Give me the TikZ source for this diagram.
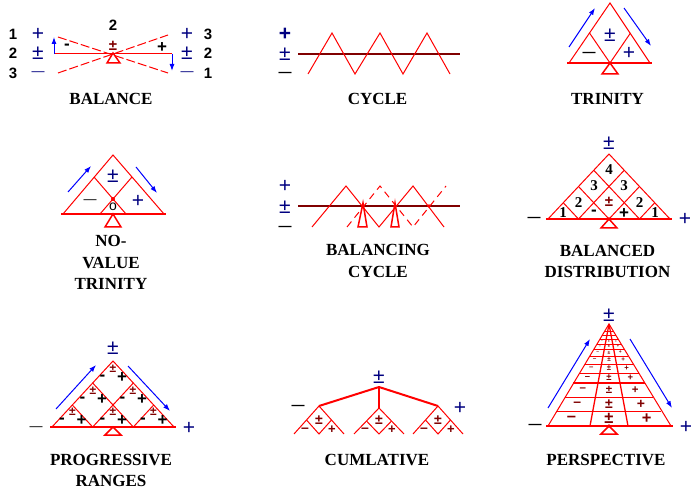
\documentclass[tikz,border=0pt]{standalone}
\usepackage{fontspec}
\setmainfont{Liberation Serif}
\setsansfont{Liberation Sans}
\usetikzlibrary{arrows.meta}
\definecolor{rd}{HTML}{FF0000}
\definecolor{nv}{HTML}{000080}
\definecolor{dr}{HTML}{800000}
\definecolor{bl}{HTML}{0000FF}
\newcommand{\myfs}[1]{\fontsize{#1}{#1}\selectfont}
\begin{document}
\begin{tikzpicture}[x=1pt,y=-1pt,
  every node/.style={inner sep=0pt, outer sep=0pt},
  title/.style={font=\fontsize{17}{21.5}\selectfont\bfseries, align=center},
  nsym/.style={font=\sffamily\myfs{21}, text=nv},
  nminus/.style={font=\sffamily\myfs{13}, text=nv},
  kminus/.style={font=\sffamily\bfseries\myfs{13}, text=black},
  tminus/.style={font=\sffamily\myfs{13}, text=black},
  num/.style={font=\sffamily\bfseries\myfs{15}},
  dnum/.style={font=\bfseries\myfs{15}},
  bsign/.style={font=\sffamily\bfseries\myfs{17}},
  dsym/.style={font=\sffamily\bfseries\myfs{15}, text=dr},
  rl/.style={draw=rd, line width=1pt},
  rlb/.style={draw=rd, line width=2pt},
  ful/.style={draw=rd, line width=1.5pt},
  dk/.style={draw=dr, line width=1.2pt},
  arr/.style={draw=bl, line width=1pt, -{Latex[length=7pt,width=5pt]}},
]
\useasboundingbox (0,0) rectangle (696,494);

% ================= BALANCE =================
\node[num] (ba1) at (13,34) {1};
\node[num] (ba2) at (13,53) {2};
\node[num] (ba3) at (13,73) {3};
\node[nsym] (bap) at (38,34) {+};
\node[nsym] (bapm) at (38,53) {±};
\node[nminus] (bam) at (38,74) {—};
\node[nsym] (barp) at (187,34) {+};
\node[nsym] (barpm) at (187,53) {±};
\node[nminus] (barm) at (187,74) {—};
\node[num] (bar3) at (208,34) {3};
\node[num] (bar2) at (208,53) {2};
\node[num] (bar1) at (208,73) {1};
\node[num] (batop) at (113,25) {2};
\node[dsym] (bac) at (113,46) {±};
\node[bsign] (baminus) at (67,47) {-};
\node[bsign] (baplus) at (162,48) {+};
\coordinate (baL) at (54,54);
\coordinate (baR) at (172,54);
\coordinate (baLu) at (54,37);
\coordinate (baRd) at (172,71);
\draw[rl] (baL) -- (baR);
\draw[arr] (baL) -- (baLu);
\draw[arr] (baR) -- (baRd);
\draw[rl, dash pattern=on 9pt off 3pt] (58,37) -- (168,73);
\draw[rl, dash pattern=on 9pt off 3pt] (58,73) -- (168,35);
\draw[ful] (113,53) -- (107,63) -- (120,63) -- cycle;
\node[title] (tbal) at (111,99) {BALANCE};

% ================= CYCLE =================
\node[nsym, font=\sffamily\bfseries\myfs{21}] (cyp) at (285,34) {+};
\node[nsym] (cypm) at (285,54) {±};
\node[kminus] (cym) at (285,74) {—};
\draw[dk] (298,54) -- (460,54);
\draw[rl] (308,74)--(332,33)--(355,74)--(380,33)--(403,74)--(427,33)--(450,74);
\node[title] (tcyc) at (377.5,99) {CYCLE};

% ================= TRINITY =================
\draw[rl] (569,63)--(610,3)--(650,63);
\draw[rlb] (567,63)--(652,63);
\draw[rl] (589.5,33)--(610,63)--(630.5,33);
\fill[rd] (610,63) circle (1.5);
\draw[ful] (610,63)--(602,74)--(618,74)--cycle;
\node[nsym] (trpm) at (610,35) {±};
\node[kminus] (trm) at (589,54) {—};
\node[nsym] (trp) at (629,53) {+};
\draw[arr] (569,47) -- (595,8);
\draw[arr] (624,8) -- (651,46);
\node[title] (ttri) at (607.5,99) {TRINITY};

% ================= NO-VALUE TRINITY =================
\draw[rl] (63,214)--(113,155)--(164,214);
\draw[rlb] (61,214)--(166,214);
\draw[rl] (94,177)--(126,214);
\draw[rl] (132,177)--(100,214);
\fill[rd] (113,199) circle (2);
\draw[ful] (113,214)--(105,227)--(121,227)--cycle;
\node[nsym] (nvpm) at (113,176) {±};
\node[tminus] (nvm) at (90,202) {—};
\node[nsym] (nvp) at (138,201) {+};
\node[font=\sffamily\myfs{14}] (nvo) at (113,207) {o};
\draw[arr] (68,192) -- (91,166);
\draw[arr] (136,167) -- (157,193);
\node[title] (tnv) at (111,262.5) {NO-\\VALUE\\TRINITY};

% ================= BALANCING CYCLE =================
\node[nsym] (bcp) at (285,186) {+};
\node[nsym] (bcpm) at (285,207) {±};
\node[kminus] (bcm) at (285,228) {—};
\draw[dk] (298,206) -- (460,206);
\draw[rl] (312,227)--(346,186)--(379,227)--(413,186)--(444,227);
\draw[rl, dash pattern=on 7pt off 5pt] (347,227)--(380,186)--(413,227)--(446,186);
\draw[ful] (363,203)--(358,227)--(367,227)--cycle;
\draw[ful] (395,203)--(391,227)--(399,227)--cycle;
\fill[rd] (363,206) circle (1.8);
\fill[rd] (395,206) circle (1.8);
\fill[rd] (429,206) circle (1.8);
\node[title] (tbc) at (378,261) {BALANCING\\CYCLE};

% ================= BALANCED DISTRIBUTION =================
\coordinate (dA) at (609,154);
\coordinate (dB0) at (548,219);
\coordinate (dB1) at (578.5,219);
\coordinate (dB2) at (609,219);
\coordinate (dB3) at (639.5,219);
\coordinate (dB4) at (670,219);
\coordinate (dL1) at (593.75,170.25);
\coordinate (dL2) at (578.5,186.5);
\coordinate (dL3) at (563.25,202.75);
\coordinate (dR1) at (624.25,170.25);
\coordinate (dR2) at (639.5,186.5);
\coordinate (dR3) at (654.75,202.75);
\draw[rl] (dB0)--(dA)--(dB4);
\draw[rlb] (546,219)--(672,219);
\draw[rl] (dL1)--(dB3) (dL2)--(dB2) (dL3)--(dB1);
\draw[rl] (dR1)--(dB1) (dR2)--(dB2) (dR3)--(dB3);
\fill[rd] (dB2) circle (1.8);
\draw[ful] (609,219)--(601,228)--(617,228)--cycle;
\node[nsym] (bdtop) at (609,143) {±};
\node[kminus] (bdm) at (534,219) {—};
\node[nsym] (bdp) at (685,219) {+};
\node[dnum] (bd4) at (609,170) {4};
\node[dnum] (bd3a) at (594,186) {3};
\node[dnum] (bd3b) at (624,186) {3};
\node[dnum] (bd2a) at (578.5,203) {2};
\node[dsym] (bdpm) at (609,202) {±};
\node[dnum] (bd2b) at (639.5,203) {2};
\node[dnum] (bd1a) at (563,213) {1};
\node[bsign] (bdmi) at (594,213) {-};
\node[bsign] (bdpl) at (624,214) {+};
\node[dnum] (bd1b) at (655,213) {1};
\node[title] (tbd) at (607.5,261.5) {BALANCED\\DISTRIBUTION};

% ================= PROGRESSIVE RANGES =================
\coordinate (pA) at (113,361);
\coordinate (pB0) at (52,427);
\coordinate (pB1) at (92.67,427);
\coordinate (pB2) at (133.33,427);
\coordinate (pB3) at (174,427);
\coordinate (pL1) at (92.67,383);
\coordinate (pL2) at (72.33,405);
\coordinate (pR1) at (133.33,383);
\coordinate (pR2) at (153.67,405);
\draw[rl] (pB0)--(pA)--(pB3);
\draw[rlb] (50,427)--(176,427);
\draw[rl] (pL1)--(pB2) (pL2)--(pB1);
\draw[rl] (pR1)--(pB1) (pR2)--(pB2);
\draw[ful] (113,427)--(105,435)--(121,435)--cycle;
\node[nsym] (prtop) at (113,348) {±};
\node[tminus] (prm) at (36,429) {—};
\node[nsym] (prp) at (189,428) {+};
\foreach \x/\y [count=\i] in {113/369, 93/391, 133/391, 72.5/412, 113/412, 153.5/412}{
  \node[font=\sffamily\bfseries\myfs{12}, text=dr] (prpm\i) at (\x,\y) {±};
  \node[bsign] (prmi\i) at (\x-10.5,\y+9) {-};
  \node[bsign] (prpl\i) at (\x+9,\y+9) {+};
}
\draw[arr] (56,409) -- (96,365);
\draw[arr] (128,366) -- (170,411);
\node[title] (tpr) at (111,470.5) {PROGRESSIVE\\RANGES};

% ================= CUMLATIVE =================
\coordinate (cT) at (379,387);
\node[nsym] (cutop) at (379,377) {±};
\node[kminus] (cum) at (298,407) {—};
\node[nsym] (cup) at (460,408) {+};
\foreach \x/\y [count=\i] in {319/406, 379/408, 438/406}{
  \coordinate (cS\i) at (\x,\y);
  \draw[rlb] (cT) -- (cS\i);
  \draw[rl] (\x-25,434) -- (cS\i) -- (\x+25,434);
  \draw[rl] (\x-12.5,{(\y+434)/2}) -- (\x,434) -- (\x+12.5,{(\y+434)/2});
  \node[dsym, font=\sffamily\bfseries\myfs{14}] (cupm\i) at (\x,420) {±};
  \node[dsym, font=\sffamily\bfseries\myfs{14}] (cumi\i) at (\x-14,430) {–};
  \node[dsym, font=\sffamily\bfseries\myfs{13}] (cupl\i) at (\x+13,430) {+};
}
\node[title] (tcu) at (377,460) {CUMLATIVE};

% ================= PERSPECTIVE =================
\coordinate (eA) at (609,324);
\coordinate (eBL) at (548,426);
\coordinate (eBR) at (671,426);
\draw[rl] (eBL)--(eA)--(eBR);
\draw[rlb] (546,426)--(673,426);
\foreach \y in {411,397,373,364,356,349,344,339,335,331}{
  \pgfmathsetmacro\h{(\y-324)*61.5/102}
  \draw[rl] ({609-\h},\y) -- ({609+\h},\y);
}
\draw[rlb] ({609-(383-324)*61.5/102},383) -- ({609+(383-324)*61.5/102},383);
\draw[rl, line width=1.3pt] (590,426) -- (eA);
\draw[rl, line width=1.3pt] (628,426) -- (eA);
\foreach \c [count=\i] in {418.5,404,390,378,368.5,360,352.5,346.5,341.5}{
  \pgfmathsetmacro\h{(\c-324)*61.5/102}
  \pgfmathsetmacro\s{16.5*\h/57}
  \node[font=\sffamily\bfseries\fontsize{\s}{\s}\selectfont, text=dr] (pem\i) at ({609-0.66*\h},\c) {–};
  \node[font=\sffamily\bfseries\fontsize{\s}{\s}\selectfont, text=dr] (pepm\i) at (609,\c) {±};
  \node[font=\sffamily\bfseries\fontsize{\s}{\s}\selectfont, text=dr] (pep\i) at ({609+0.66*\h},\c) {+};
}
\fill[rd] (609,426) circle (1.8);
\draw[ful] (609,426)--(601,434)--(617,434)--cycle;
\node[nsym] (petop) at (609,315) {±};
\node[kminus] (pemi) at (535,426) {—};
\node[nsym] (pepl) at (686,427) {+};
\draw[arr] (548,408) -- (590,339);
\draw[arr] (630,339) -- (672,408);
\node[title] (tpe) at (606,460) {PERSPECTIVE};
\end{tikzpicture}
\end{document}
